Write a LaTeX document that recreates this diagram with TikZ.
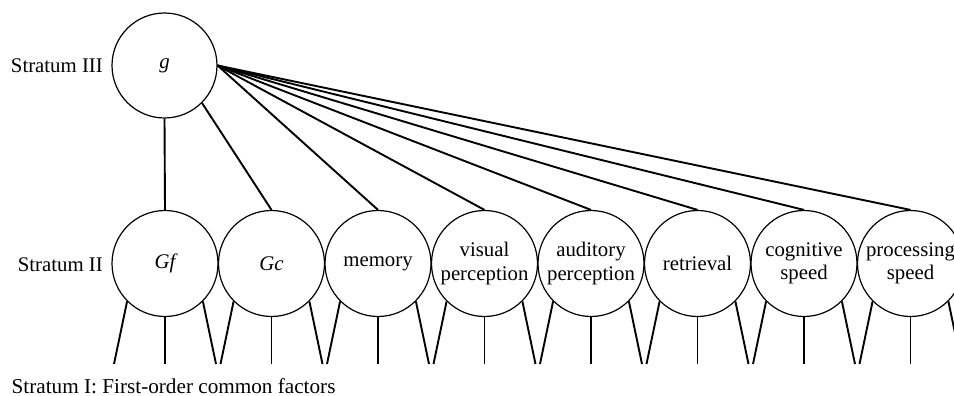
\documentclass[tikz,border=0pt]{standalone}
\usepackage{fontspec}
\setmainfont{Liberation Serif}
\begin{document}
\begin{tikzpicture}[x=1pt,y=-1pt,
  factor/.style={circle,draw,line width=1.2pt,minimum size=106pt,inner sep=0pt,align=center,
    font=\fontsize{20.8}{23.5}\selectfont},
  lbl/.style={font=\fontsize{20.8}{23.5}\selectfont,inner sep=0pt},
  link/.style={line width=1.9pt}]
\useasboundingbox (0,0) rectangle (954,396);
\clip (0,0) rectangle (954,396);
\node[factor,minimum size=105pt] (g) at (164.5,65.5) {\itshape g};
\node[lbl,anchor=east] (s3) at (103,66) {Stratum III};
\node[lbl,anchor=east] (s2) at (103,265) {Stratum II};
\node[lbl,anchor=base west,font=\fontsize{21.2}{24}\selectfont] (s1) at (11.5,393) {Stratum I: First-order common factors};
\foreach \i/\name/\txt in {0/gf/{\itshape Gf},1/gc/{\itshape Gc},2/mem/memory,3/vis/{visual\\perception},
  4/aud/{auditory\\perception},5/ret/retrieval,6/cog/{cognitive\\speed},7/proc/{processing\\speed}}{
  \node[factor] (\name) at (165+106.5*\i,263.5) {\txt};
  \coordinate (\name L) at (165+106.5*\i-51,364);
  \coordinate (\name M) at (165+106.5*\i,364);
  \coordinate (\name R) at (165+106.5*\i+51,364);
  \draw[link] (\name.south west) -- (\name L);
  \draw[link] (\name.south) -- (\name M);
  \draw[link] (\name.south east) -- (\name R);
}
\draw[link] (g.south) -- (gf.north);
\draw[link] (g.south east) -- (gc.north);
\foreach \name in {mem,vis,aud,ret,cog,proc}{
  \draw[link] (g.east) -- (\name.north);
}
\end{tikzpicture}
\end{document}
